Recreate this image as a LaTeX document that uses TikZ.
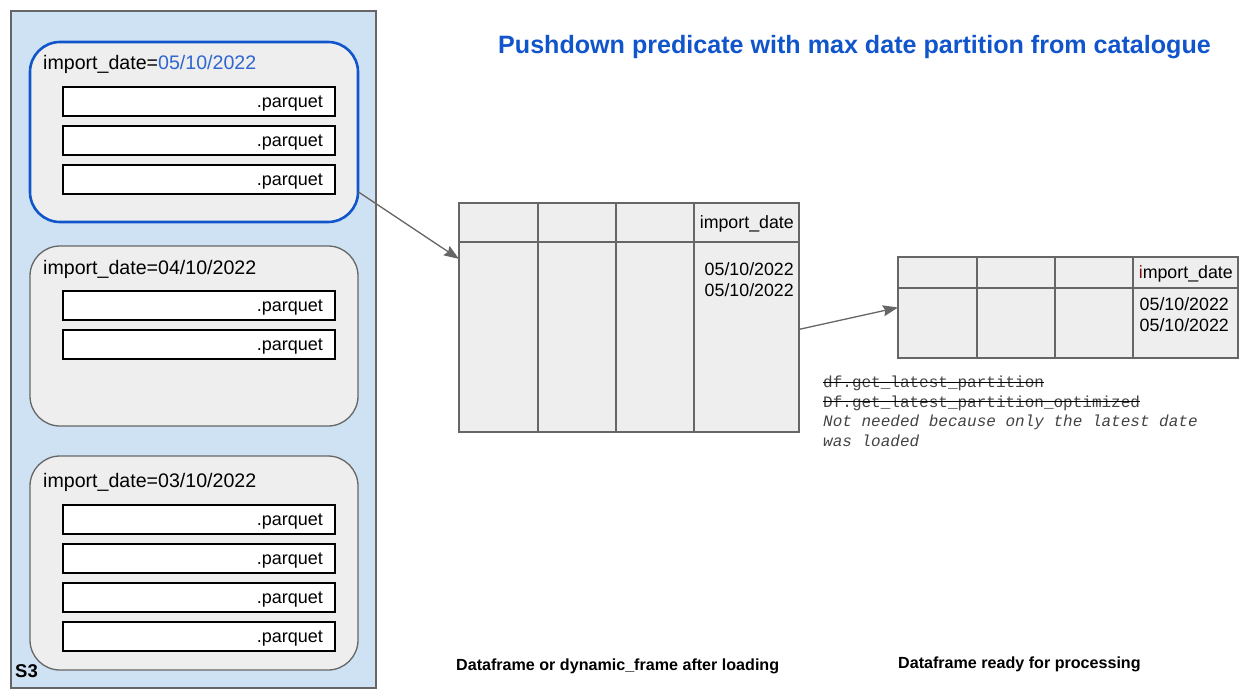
\documentclass[tikz,border=0pt]{standalone}
\usepackage{fontspec}
\setmainfont{Liberation Sans}
\setmonofont{Liberation Mono}
\usepackage{tikz}
\usetikzlibrary{calc}
\usetikzlibrary{arrows.meta}
\definecolor{bucketblue}{HTML}{CFE2F3}
\definecolor{boxgrey}{HTML}{EEEEEE}
\definecolor{edgegrey}{HTML}{666666}
\definecolor{titleblue}{HTML}{1155CC}
\definecolor{dateblue}{HTML}{2F66CF}
\definecolor{notegrey}{HTML}{434343}
\definecolor{keyred}{HTML}{7A1010}
\newcommand{\strikeout}[1]{\setbox0=\hbox{#1}\rlap{\copy0}{\color{black}\rule[0.3em]{\wd0}{1.2pt}}}
\tikzset{
    bucket/.style={draw=edgegrey, fill=bucketblue, line width=1.3pt, inner sep=0, outer sep=0},
    partition/.style={draw=edgegrey, fill=boxgrey, line width=1.3pt, rounded corners=30pt, minimum width=328pt, inner sep=0, outer sep=0},
    pqfile/.style={draw=black, fill=white, line width=1.4pt, minimum width=272pt, minimum height=29pt, text width=248pt, text height=14pt, text depth=3pt, align=right, inner sep=0, outer sep=0, font=\fontsize{18}{21}\selectfont},
    dftable/.style={draw=edgegrey, fill=boxgrey, line width=1.3pt, inner sep=0, outer sep=0},
    grid/.style={draw=edgegrey, line width=1.3pt},
    cell/.style={inner sep=0, font=\fontsize{17.8}{21}\selectfont},
    folder/.style={inner sep=0, anchor=base west, font=\fontsize{19.6}{23}\selectfont},
    caption/.style={anchor=base west, inner sep=0, font=\bfseries\fontsize{16.1}{19}\selectfont},
    link/.style={draw=edgegrey, line width=1.3pt, -{Stealth[length=15pt,width=11pt,inset=2pt]}}
}

\begin{document}
\begin{tikzpicture}[x=1pt,y=-1pt]
\useasboundingbox (0,0) rectangle (1250,696);

\node[bucket, minimum width=365pt, minimum height=677pt] (s3) at (193.5,349.5) {};
\node[anchor=base west, inner sep=0, font=\bfseries\fontsize{18.5}{21}\selectfont] (s3lab) at (15,677) {S3};

\node[partition, minimum height=180pt, draw=titleblue, line width=2.6pt] (p1) at (194,132) {};
\node[partition, minimum height=180pt] (p2) at (194,336) {};
\node[partition, minimum height=214pt] (p3) at (194,563) {};

\foreach \p/\y/\d in {p1/69/{\textcolor{dateblue}{05/10/2022}}, p2/274/{04/10/2022}, p3/487/{03/10/2022}}{
    \node[folder] (\p lab) at (43,\y) {import\_date=\d};
}

\foreach \n/\y in {p1a/101.5, p1b/140.5, p1c/179.5, p2a/305.5, p2b/344.5, p3a/519.5, p3b/558.5, p3c/597.5, p3d/636.5}{
    \node[pqfile] (\n) at (199,\y) {.parquet};
}

\node[dftable, minimum width=340pt, minimum height=229pt] (t1) at (629,317.5) {};
\draw[grid] (459,242) -- (799,242);
\foreach \x in {538,616,694}{
    \draw[grid] (\x,203) -- (\x,432);
}
\node[cell, anchor=base east] (t1head) at (794,228) {import\_date};
\node[cell, anchor=base east] (t1row1) at (794,275) {05/10/2022};
\node[cell, anchor=base east] (t1row2) at (794,296) {05/10/2022};

\node[dftable, minimum width=340pt, minimum height=101pt] (t2) at (1068,307.5) {};
\draw[grid] (898,288) -- (1238,288);
\foreach \x in {977,1055,1133}{
    \draw[grid] (\x,257) -- (\x,358);
}
\node[cell, anchor=base east] (t2head) at (1233,278) {\textcolor{keyred}{i}mport\_date};
\node[cell, anchor=base east] (t2row1) at (1229,310) {05/10/2022};
\node[cell, anchor=base east] (t2row2) at (1229,331) {05/10/2022};

\draw[link] (p1.-20) -- (t1.161);
\draw[link] (t1.-4) -- (t2.west);

\node[anchor=base, inner sep=0, text=titleblue, font=\bfseries\fontsize{25.1}{28}\selectfont] (title) at (854.5,53) {Pushdown predicate with max date partition from catalogue};

\node[anchor=base west, inner sep=0, align=left, text=notegrey, font=\ttfamily\fontsize{16}{19.5}\selectfont] (note) at (823,446)
    {\strikeout{df.get\_latest\_partition}\\
     \strikeout{Df.get\_latest\_partition\_optimized}\\
     \textit{Not needed because only the latest date}\\
     \textit{was loaded}};

\node[caption] (t1cap) at (456,670) {Dataframe or dynamic\_frame after loading};
\node[caption] (t2cap) at (898,668) {Dataframe ready for processing};
\end{tikzpicture}
\end{document}
